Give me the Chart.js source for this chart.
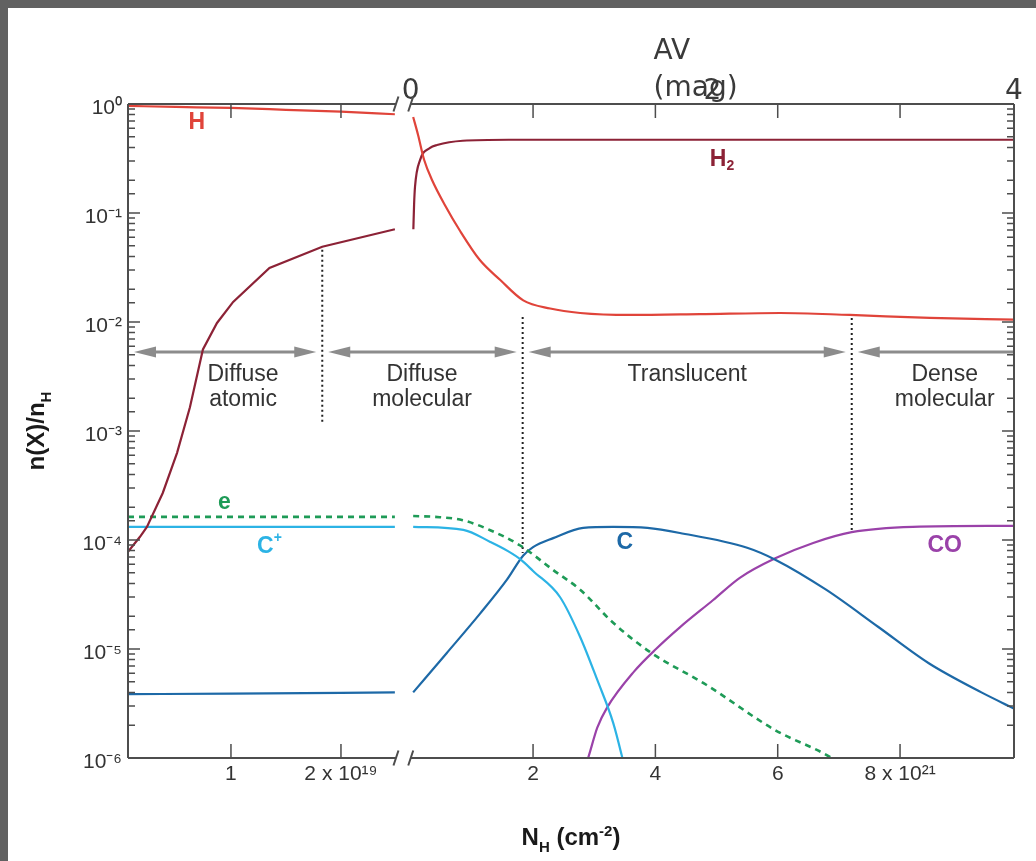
<!DOCTYPE html>
<html lang="en">
<head>
<meta charset="utf-8">
<title>n(X)/nH across a cloud</title>
<script src="https://cdn.jsdelivr.net/npm/chart.js"></script>
<style>
  html, body { margin: 0; padding: 0; background: #fff; }
  #frame { width: 1028px; height: 853px; border-top: 8px solid #616161; border-left: 8px solid #616161; }
  canvas { display: block; }
</style>
</head>
<body>
<div id="frame"><canvas id="abundances" width="1028" height="853"></canvas></div>
<script>
const sansFont = "'Liberation Sans', Arial, Helvetica, sans-serif";
const avFont = "'DejaVu Sans', sans-serif";
const inkColor = '#333';
const frameColor = '#4d4d4d';

const colH = '#e0443a', colH2 = '#8c2236', colE = '#1e9b57';
const colCp = '#2cb3e5', colC = '#1d69a7', colCO = '#9a42a9';

// N_H span of each panel: left in 1e19 cm^-2, right in 1e21 cm^-2
const leftRange = [0.064, 2.573];
const rightRange = [-0.11, 9.863];
const leftBreakAt = 2.5;
const rightBreakAt = 0;

const leftTicks = [1, 2];
const leftTickLabels = ['1', '2 x 10¹⁹'];
const rightTicks = [2, 4, 6, 8];
const rightTickLabels = ['2', '4', '6', '8 x 10²¹'];
const avTicks = [0, 2, 4];
const avTickLabels = ['0', '2', '4'];
const avMax = 4;

// abundances, [N_H, n(X)/n_H]
const hLeft = [[0.064, 0.96], [0.5, 0.94], [1.0, 0.92], [1.5, 0.885], [2.0, 0.85], [2.49, 0.805]];
const hRight = [[0.04, 0.76], [0.12, 0.52], [0.22, 0.306], [0.35, 0.20], [0.56, 0.118], [0.81, 0.068],
  [1.13, 0.037], [1.46, 0.0244], [1.84, 0.0158], [2.28, 0.0133], [2.77, 0.0121], [3.59, 0.0116],
  [4.73, 0.0118], [6.04, 0.0121], [7.18, 0.0116], [8.49, 0.0109], [9.86, 0.0105]];

const h2Left = [[0.064, 7.8e-5], [0.173, 1.07e-4], [0.236, 1.32e-4], [0.38, 2.7e-4], [0.51, 6.3e-4],
  [0.627, 1.65e-3], [0.745, 5.6e-3], [0.873, 9.8e-3], [1.02, 0.0153], [1.35, 0.0313], [1.83, 0.049], [2.49, 0.071]];
const h2Right = [[0.043, 0.071], [0.055, 0.12], [0.07, 0.174], [0.152, 0.306], [0.316, 0.395], [0.43, 0.42],
  [0.85, 0.46], [1.6, 0.47], [9.86, 0.47]];

const eLeft = [[0.064, 1.63e-4], [2.49, 1.63e-4]];
const eRight = [[0.04, 1.66e-4], [0.4, 1.63e-4], [0.85, 1.52e-4], [1.30, 1.23e-4], [1.79, 8.9e-5], [2.33, 5.3e-5],
  [2.77, 3.5e-5], [3.31, 1.74e-5], [3.91, 9.4e-6], [4.83, 4.7e-6], [5.96, 1.8e-6], [6.86, 1.02e-6], [7.0, 9e-7]];

const cpLeft = [[0.064, 1.32e-4], [2.49, 1.32e-4]];
const cpRight = [[0.04, 1.32e-4], [0.86, 1.24e-4], [1.30, 9.6e-5], [1.59, 7.9e-5], [1.80, 6.6e-5],
  [2.0, 5.2e-5], [2.44, 3.0e-5], [2.77, 1.29e-5], [3.05, 5.2e-6], [3.31, 2.1e-6], [3.46, 1.0e-6], [3.5, 8e-7]];

const cLeft = [[0.064, 3.85e-6], [1.0, 3.9e-6], [2.49, 4.0e-6]];
const cRight = [[0.04, 4.0e-6], [0.59, 9.2e-6], [1.13, 2.1e-5], [1.57, 4.3e-5], [1.84, 7.2e-5], [2.0, 8.6e-5],
  [2.33, 1.04e-4], [2.82, 1.29e-4], [3.31, 1.32e-4], [3.87, 1.29e-4], [4.40, 1.16e-4], [5.50, 8.5e-5],
  [5.96, 6.6e-5], [6.79, 3.5e-5], [7.64, 1.6e-5], [8.47, 7.4e-6], [9.33, 4.0e-6], [9.86, 2.85e-6]];

const coRight = [[2.87, 9e-7], [2.90, 1.0e-6], [3.05, 1.9e-6], [3.21, 2.9e-6], [3.65, 6.2e-6], [4.01, 1.0e-5],
  [4.40, 1.58e-5], [4.94, 2.8e-5], [5.38, 4.5e-5], [5.96, 6.8e-5], [6.58, 9.4e-5], [7.21, 1.18e-4],
  [8.21, 1.32e-4], [9.86, 1.35e-4]];

// region boundaries (dotted) and the arrow level
const boundaries = [
  {axis: 'xl', x: 1.83, top: 0.046, bottom: 1.14e-3},
  {axis: 'xr', x: 1.83, top: 0.0111, bottom: 7.6e-5},
  {axis: 'xr', x: 7.21, top: 0.0109, bottom: 1.18e-4}
];
const arrowLevel = 5.3e-3;
const regionNames = [['Diffuse', 'atomic'], ['Diffuse', 'molecular'], ['Translucent'], ['Dense', 'molecular']];
const regionLabelAt = [['xl', 1.11], ['xr', 0.185], ['xr', 4.52], ['xr', 8.73]];

const speciesLabels = [
  {axis: 'xl', x: 0.69, y: 0.67, parts: [['H', '']], color: colH},
  {axis: 'xr', x: 5.09, y: 0.31, parts: [['H', ''], ['2', 'sub']], color: colH2},
  {axis: 'xl', x: 0.94, y: 2.19e-4, parts: [['e', '']], color: colE},
  {axis: 'xl', x: 1.35, y: 8.6e-5, parts: [['C', ''], ['+', 'sup']], color: colCp},
  {axis: 'xr', x: 3.50, y: 9.4e-5, parts: [['C', '']], color: colC},
  {axis: 'xr', x: 8.73, y: 8.8e-5, parts: [['CO', '']], color: colCO}
];

const supMap = {'-': '⁻', '0': '⁰', '1': '¹', '2': '²', '3': '³', '4': '⁴', '5': '⁵', '6': '⁶', '7': '⁷', '8': '⁸', '9': '⁹'};
const sup = s => String(s).split('').map(c => supMap[c]).join('');

function richText(ctx, parts, x, y, size, weight, family) {
  const small = Math.round(size * 0.62);
  const pieces = parts.map(([text, kind]) => {
    ctx.font = `${weight} ${kind ? small : size}px ${family}`;
    return {text, kind, font: ctx.font, w: ctx.measureText(text).width};
  });
  let cx = x - pieces.reduce((s, p) => s + p.w, 0) / 2;
  ctx.textAlign = 'left';
  for (const p of pieces) {
    ctx.font = p.font;
    const dy = p.kind === 'sub' ? size * 0.28 : p.kind === 'sup' ? -size * 0.38 : 0;
    ctx.fillText(p.text, cx, y + dy);
    cx += p.w;
  }
}

function drawArrow(ctx, x0, x1, y, headL, headR) {
  const L = 22, W = 5.5;
  ctx.beginPath();
  ctx.moveTo(x0 + (headL ? L - 2 : 0), y);
  ctx.lineTo(x1 - (headR ? L - 2 : 0), y);
  ctx.stroke();
  if (headL) {
    ctx.beginPath(); ctx.moveTo(x0, y); ctx.lineTo(x0 + L, y - W); ctx.lineTo(x0 + L, y + W); ctx.closePath(); ctx.fill();
  }
  if (headR) {
    ctx.beginPath(); ctx.moveTo(x1, y); ctx.lineTo(x1 - L, y - W); ctx.lineTo(x1 - L, y + W); ctx.closePath(); ctx.fill();
  }
}

const cloudDecor = {
  id: 'cloudDecor',
  beforeDatasetsDraw(chart) {
    const {ctx, chartArea: area, scales} = chart;
    const y = scales.y;
    ctx.save();
    const bx = boundaries.map(b => scales[b.axis].getPixelForValue(b.x));
    ctx.strokeStyle = '#222';
    ctx.lineWidth = 2;
    ctx.setLineDash([2, 3]);
    boundaries.forEach((b, i) => {
      ctx.beginPath();
      ctx.moveTo(bx[i], y.getPixelForValue(b.top));
      ctx.lineTo(bx[i], y.getPixelForValue(b.bottom));
      ctx.stroke();
    });
    ctx.setLineDash([]);

    const ay = y.getPixelForValue(arrowLevel);
    const edges = [area.left, ...bx, area.right];
    ctx.strokeStyle = ctx.fillStyle = '#8c8c8c';
    ctx.lineWidth = 3;
    for (let i = 0; i < 4; i++) {
      const last = i === 3;
      drawArrow(ctx, edges[i] + 6, last ? edges[i + 1] : edges[i + 1] - 6, ay, true, !last);
    }

    ctx.fillStyle = inkColor;
    ctx.font = `23px ${sansFont}`;
    ctx.textAlign = 'center';
    ctx.textBaseline = 'alphabetic';
    regionNames.forEach((lines, i) => {
      const [axis, v] = regionLabelAt[i];
      const x = scales[axis].getPixelForValue(v);
      lines.forEach((t, j) => ctx.fillText(t, x, ay + 29 + j * 25));
    });
    ctx.restore();
  },
  afterDatasetsDraw(chart) {
    const {ctx, chartArea: area, scales} = chart;
    ctx.save();
    // frame with the axis break
    const gapL = scales.xl.getPixelForValue(leftBreakAt);
    const gapR = scales.xr.getPixelForValue(rightBreakAt);
    ctx.strokeStyle = frameColor;
    ctx.lineWidth = 2;
    ctx.beginPath();
    ctx.moveTo(area.left, area.top); ctx.lineTo(area.left, area.bottom);
    ctx.moveTo(area.right, area.top); ctx.lineTo(area.right, area.bottom);
    for (const yy of [area.top, area.bottom]) {
      ctx.moveTo(area.left, yy); ctx.lineTo(gapL, yy);
      ctx.moveTo(gapR, yy); ctx.lineTo(area.right, yy);
      for (const gx of [gapL, gapR]) { ctx.moveTo(gx - 2.5, yy + 7.5); ctx.lineTo(gx + 2.5, yy - 7.5); }
    }
    ctx.stroke();

    // inward tick marks
    ctx.lineWidth = 1.5;
    ctx.beginPath();
    for (const t of scales.y.ticks) {
      const p = scales.y.getPixelForValue(t.value);
      const lg = Math.log10(t.value);
      const len = Math.abs(lg - Math.round(lg)) < 1e-6 ? 12 : 7;
      ctx.moveTo(area.left, p); ctx.lineTo(area.left + len, p);
      ctx.moveTo(area.right, p); ctx.lineTo(area.right - len, p);
    }
    for (const s of [scales.xl, scales.xr]) {
      for (const t of s.ticks) {
        const p = s.getPixelForValue(t.value);
        ctx.moveTo(p, area.bottom); ctx.lineTo(p, area.bottom - 14);
        ctx.moveTo(p, area.top); ctx.lineTo(p, area.top + 14);
      }
    }
    ctx.stroke();

    // species names
    ctx.textBaseline = 'middle';
    for (const s of speciesLabels) {
      ctx.fillStyle = s.color;
      richText(ctx, s.parts, scales[s.axis].getPixelForValue(s.x), scales.y.getPixelForValue(s.y), 23, 'bold', sansFont);
    }

    // axis titles
    ctx.fillStyle = '#1a1a1a';
    ctx.textBaseline = 'alphabetic';
    richText(ctx, [['N', ''], ['H', 'sub'], [' (cm', ''], ['-2', 'sup'], [')', '']],
      (area.left + area.right) / 2, 837, 24, 'bold', sansFont);
    ctx.save();
    ctx.translate(36, (area.top + area.bottom) / 2);
    ctx.rotate(-Math.PI / 2);
    richText(ctx, [['n(X)/n', ''], ['H', 'sub']], 0, 0, 24, 'bold', sansFont);
    ctx.restore();

    // title of the extinction axis
    const av = scales.av;
    const tx = av.getPixelForValue(1.61);
    ctx.fillStyle = '#3a3a3a';
    ctx.font = `28px ${avFont}`;
    ctx.textAlign = 'left';
    ctx.fillText('AV', tx, 51);
    ctx.fillText('(mag)', tx, 88);
    ctx.restore();
  }
};

function series(points, axis, color, extra) {
  return Object.assign({
    data: points.map(([x, y]) => ({x, y})),
    xAxisID: axis,
    yAxisID: 'y',
    borderColor: color,
    borderWidth: 2.2,
    pointRadius: 0,
    fill: false,
    cubicInterpolationMode: 'monotone'
  }, extra || {});
}

const bottomTickFont = {family: sansFont, size: 21};
const noGrid = {display: false, drawTicks: false};

new Chart(document.getElementById('abundances'), {
  type: 'line',
  data: {
    datasets: [
      series(hLeft, 'xl', colH),
      series(hRight, 'xr', colH),
      series(h2Left, 'xl', colH2, {cubicInterpolationMode: 'default', tension: 0}),
      series(h2Right, 'xr', colH2),
      series(eLeft, 'xl', colE, {borderDash: [6, 5], borderWidth: 2.6}),
      series(eRight, 'xr', colE, {borderDash: [6, 5], borderWidth: 2.6}),
      series(cpLeft, 'xl', colCp),
      series(cpRight, 'xr', colCp),
      series(cLeft, 'xl', colC),
      series(cRight, 'xr', colC),
      series(coRight, 'xr', colCO)
    ]
  },
  options: {
    responsive: false,
    animation: false,
    layout: {padding: {left: 0, top: 0, right: 22, bottom: 0}},
    plugins: {legend: {display: false}, tooltip: {enabled: false}},
    scales: {
      xl: {
        type: 'linear', position: 'bottom', stack: 'nh', stackWeight: 276,
        min: leftRange[0], max: leftRange[1],
        afterBuildTicks: s => { s.ticks = leftTicks.map(value => ({value})); },
        afterFit: s => { s.height = 103; },
        grid: noGrid, border: {display: false},
        ticks: {font: bottomTickFont, color: inkColor, padding: 4, autoSkip: false, maxRotation: 0,
          callback: (v, i) => leftTickLabels[i]}
      },
      xr: {
        type: 'linear', position: 'bottom', stack: 'nh', stackWeight: 610,
        min: rightRange[0], max: rightRange[1],
        afterBuildTicks: s => { s.ticks = rightTicks.map(value => ({value})); },
        afterFit: s => { s.height = 103; },
        grid: noGrid, border: {display: false},
        ticks: {font: bottomTickFont, color: inkColor, padding: 4, autoSkip: false, maxRotation: 0,
          callback: (v, i) => rightTickLabels[i]}
      },
      av: {
        type: 'linear', axis: 'x', position: 'top', stack: 'top', stackWeight: 610,
        min: rightRange[0] * avMax / rightRange[1], max: avMax,
        afterBuildTicks: s => { s.ticks = avTicks.map(value => ({value})); },
        afterFit: s => { s.height = 96; },
        grid: noGrid, border: {display: false},
        ticks: {font: {family: avFont, size: 28, lineHeight: 1}, color: '#3a3a3a', padding: -2,
          autoSkip: false, maxRotation: 0, callback: (v, i) => avTickLabels[i]}
      },
      xt: {
        type: 'linear', position: 'top', stack: 'top', stackWeight: 276,
        min: leftRange[0], max: leftRange[1],
        afterFit: s => { s.height = 96; },
        grid: noGrid, border: {display: false},
        ticks: {display: false}
      },
      y: {
        type: 'logarithmic', position: 'left', min: 1e-6, max: 1,
        afterFit: s => { s.width = 120; },
        grid: noGrid, border: {display: false},
        ticks: {
          font: {family: sansFont, size: 21}, color: inkColor, padding: 6, labelOffset: 4,
          autoSkip: false,
          callback(value) {
            const lg = Math.log10(value);
            const e = Math.round(lg);
            return Math.abs(lg - e) < 1e-6 ? '10' + sup(e) : '';
          }
        }
      }
    }
  },
  plugins: [cloudDecor]
});
</script>
</body>
</html>
